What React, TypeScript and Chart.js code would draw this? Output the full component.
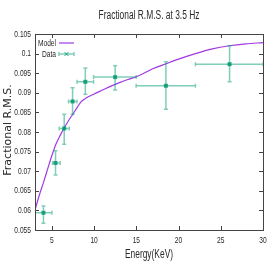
import React, { useEffect, useRef } from "react";
import { Chart, registerables } from "chart.js";

Chart.register(...registerables);

// Model curve (Energy keV -> fractional rms)
const modelEnergy = [3, 3.5, 4, 4.5, 5, 5.5, 6, 6.5, 7, 7.5, 8, 8.5, 9, 10, 11, 12, 13, 14, 15, 16, 17, 18, 19, 20, 22, 24, 26, 28, 30];
const modelRms = [0.0601, 0.0638, 0.0671, 0.0706, 0.074, 0.077, 0.0792, 0.0812, 0.083, 0.0846, 0.0863, 0.0878, 0.0886, 0.0897, 0.0907, 0.0917, 0.0926, 0.0934, 0.0941, 0.0951, 0.0962, 0.097, 0.0978, 0.0986, 0.1, 0.1012, 0.102, 0.1025, 0.1028];

// Data points with error bars
const dataEnergy = [4.0, 5.43, 6.46, 7.45, 8.96, 12.49, 18.5, 26.04];
const dataEnergyLo = [3.0, 5.07, 5.87, 6.97, 7.97, 9.94, 14.98, 22.0];
const dataEnergyHi = [5.0, 5.98, 7.06, 7.97, 9.94, 14.98, 22.0, 30.0];
const dataRms = [0.0594, 0.0721, 0.0809, 0.0878, 0.0928, 0.094, 0.0918, 0.0973];
const dataRmsLo = [0.0567, 0.069, 0.0769, 0.0845, 0.0896, 0.0907, 0.0858, 0.0928];
const dataRmsHi = [0.0611, 0.0752, 0.0845, 0.0913, 0.0963, 0.0969, 0.0979, 0.102];

// Axis ticks and texts
const xTicks = [5, 10, 15, 20, 25, 30];
const xTickLabels = ["5", "10", "15", "20", "25", "30"];
const yTicks = [0.055, 0.06, 0.065, 0.07, 0.075, 0.08, 0.085, 0.09, 0.095, 0.1, 0.105];
const yTickLabels = ["0.055", "0.06", "0.065", "0.07", "0.075", "0.08", "0.085", "0.09", "0.095", "0.1", "0.105"];
const titleText = "Fractional R.M.S. at 3.5 Hz";
const xTitleText = "Energy(KeV)";
const yTitleText = "Fractional R.M.S.";
const legendLabels = ["Model", "Data"];

const PURPLE = "#a238e4";
const GREEN = "rgba(0,158,115,0.5)";
const GREEN_DARK = "rgba(0,150,110,0.85)";
const AXIS = "#444";
const TEXT = "#2a2a2a";
const SANS = "'Liberation Sans', Arial, sans-serif";
const SQUEEZE = 0.7;

function condensedText(ctx: any, text: string, x: number, y: number, align: string, size: number) {
  ctx.save();
  ctx.font = `${size}px ${SANS}`;
  ctx.fillStyle = TEXT;
  ctx.textAlign = align;
  ctx.textBaseline = "middle";
  ctx.translate(x, y);
  ctx.scale(SQUEEZE, 1);
  ctx.fillText(text, 0, 0);
  ctx.restore();
}

const errorBarPlugin = {
  id: "errorBars",
  afterDatasetsDraw(chart: any) {
    const { ctx, chartArea, scales } = chart;
    const xs = scales.x;
    const ys = scales.y;
    ctx.save();
    ctx.beginPath();
    ctx.rect(chartArea.left, chartArea.top, chartArea.right - chartArea.left, chartArea.bottom - chartArea.top);
    ctx.clip();
    ctx.strokeStyle = GREEN;
    ctx.lineWidth = 1.5;
    const cap = 2;
    for (let i = 0; i < dataEnergy.length; i++) {
      const cx = xs.getPixelForValue(dataEnergy[i]);
      const cy = ys.getPixelForValue(dataRms[i]);
      const x0 = xs.getPixelForValue(dataEnergyLo[i]);
      const x1 = xs.getPixelForValue(dataEnergyHi[i]);
      const y0 = ys.getPixelForValue(dataRmsLo[i]);
      const y1 = ys.getPixelForValue(dataRmsHi[i]);
      ctx.beginPath();
      ctx.moveTo(x0, cy); ctx.lineTo(x1, cy);
      ctx.moveTo(x0, cy - cap); ctx.lineTo(x0, cy + cap);
      ctx.moveTo(x1, cy - cap); ctx.lineTo(x1, cy + cap);
      ctx.moveTo(cx, y0); ctx.lineTo(cx, y1);
      ctx.moveTo(cx - cap, y0); ctx.lineTo(cx + cap, y0);
      ctx.moveTo(cx - cap, y1); ctx.lineTo(cx + cap, y1);
      ctx.stroke();
      ctx.fillStyle = GREEN_DARK;
      ctx.fillRect(cx - 2, cy - 2, 4, 4);
    }
    ctx.restore();
  },
};

const framePlugin = {
  id: "frame",
  afterDraw(chart: any) {
    const { ctx, chartArea, scales } = chart;
    const { left, right, top, bottom } = chartArea;
    const xs = scales.x;
    const ys = scales.y;
    ctx.save();
    ctx.strokeStyle = AXIS;
    ctx.lineWidth = 1;
    ctx.strokeRect(Math.round(left) + 0.5, Math.round(top) + 0.5, Math.round(right - left), Math.round(bottom - top));
    const tl = 4;
    ctx.beginPath();
    xTicks.forEach((v) => {
      const px = Math.round(xs.getPixelForValue(v)) + 0.5;
      ctx.moveTo(px, bottom); ctx.lineTo(px, bottom - tl);
      ctx.moveTo(px, top); ctx.lineTo(px, top + tl);
    });
    yTicks.forEach((v) => {
      const py = Math.round(ys.getPixelForValue(v)) + 0.5;
      ctx.moveTo(left, py); ctx.lineTo(left + tl, py);
      ctx.moveTo(right, py); ctx.lineTo(right - tl, py);
    });
    ctx.stroke();
    ctx.restore();

    // tick labels
    xTicks.forEach((v, i) => condensedText(ctx, xTickLabels[i], xs.getPixelForValue(v), bottom + 10, "center", 9.5));
    yTicks.forEach((v, i) => condensedText(ctx, yTickLabels[i], left - 4, ys.getPixelForValue(v), "right", 9.5));

    // titles
    const cxm = (left + right) / 2;
    condensedText(ctx, titleText, cxm, top - 18, "center", 12);
    condensedText(ctx, xTitleText, cxm, bottom + 25, "center", 12);
    ctx.save();
    ctx.font = `11px 'DejaVu Sans', sans-serif`;
    ctx.fillStyle = TEXT;
    ctx.textAlign = "center";
    ctx.textBaseline = "middle";
    ctx.translate(left - 27, (top + bottom) / 2 - 2);
    ctx.rotate(-Math.PI / 2);
    ctx.fillText(yTitleText, 0, 0);
    ctx.restore();

    // legend
    const tx = left + 21;
    const ly1 = top + 9;
    const ly2 = top + 20;
    condensedText(ctx, legendLabels[0], tx, ly1, "right", 9.5);
    condensedText(ctx, legendLabels[1], tx, ly2, "right", 9.5);
    ctx.save();
    ctx.strokeStyle = PURPLE;
    ctx.lineWidth = 1.2;
    ctx.beginPath();
    ctx.moveTo(tx + 3, ly1); ctx.lineTo(tx + 18, ly1);
    ctx.stroke();
    ctx.strokeStyle = GREEN;
    ctx.lineWidth = 1.5;
    ctx.beginPath();
    ctx.moveTo(tx + 3, ly2); ctx.lineTo(tx + 18, ly2);
    ctx.moveTo(tx + 3, ly2 - 2); ctx.lineTo(tx + 3, ly2 + 2);
    ctx.moveTo(tx + 18, ly2 - 2); ctx.lineTo(tx + 18, ly2 + 2);
    ctx.stroke();
    ctx.strokeStyle = GREEN_DARK;
    ctx.lineWidth = 1;
    ctx.beginPath();
    const mx = tx + 10.5;
    ctx.moveTo(mx - 2, ly2 - 2); ctx.lineTo(mx + 2, ly2 + 2);
    ctx.moveTo(mx - 2, ly2 + 2); ctx.lineTo(mx + 2, ly2 - 2);
    ctx.stroke();
    ctx.restore();
  },
};

export default function App() {
  const ref = useRef<HTMLCanvasElement | null>(null);
  useEffect(() => {
    if (!ref.current) return;
    const chart = new Chart(ref.current, {
      type: "line",
      data: {
        datasets: [
          {
            label: legendLabels[0],
            data: modelEnergy.map((e, i) => ({ x: e, y: modelRms[i] })),
            borderColor: PURPLE,
            borderWidth: 1.2,
            pointRadius: 0,
            cubicInterpolationMode: "monotone",
            fill: false,
          },
        ],
      },
      plugins: [errorBarPlugin, framePlugin],
      options: {
        responsive: false,
        animation: false,
        layout: { padding: { left: 0, right: 11, top: 34, bottom: 0 } },
        plugins: {
          legend: { display: false },
          tooltip: { enabled: false },
          title: { display: false },
        },
        scales: {
          x: {
            type: "linear",
            min: 3,
            max: 30,
            grid: { display: false, drawTicks: false },
            border: { display: false },
            afterBuildTicks: (s: any) => { s.ticks = xTicks.map((v) => ({ value: v })); },
            afterFit: (s: any) => { s.height = 32; },
            ticks: { display: false },
            title: { display: false },
          },
          y: {
            type: "linear",
            min: 0.055,
            max: 0.105,
            grid: { display: false, drawTicks: false },
            border: { display: false },
            afterBuildTicks: (s: any) => { s.ticks = yTicks.map((v) => ({ value: v })); },
            afterFit: (s: any) => { s.width = 35; },
            ticks: { display: false },
            title: { display: false },
          },
        },
      } as any,
    });
    return () => chart.destroy();
  }, []);
  return (
    <div style={{ position: "absolute", left: 0, top: 0, width: 274, height: 262, background: "#fff" }}>
      <canvas ref={ref} width={274} height={262} />
    </div>
  );
}
